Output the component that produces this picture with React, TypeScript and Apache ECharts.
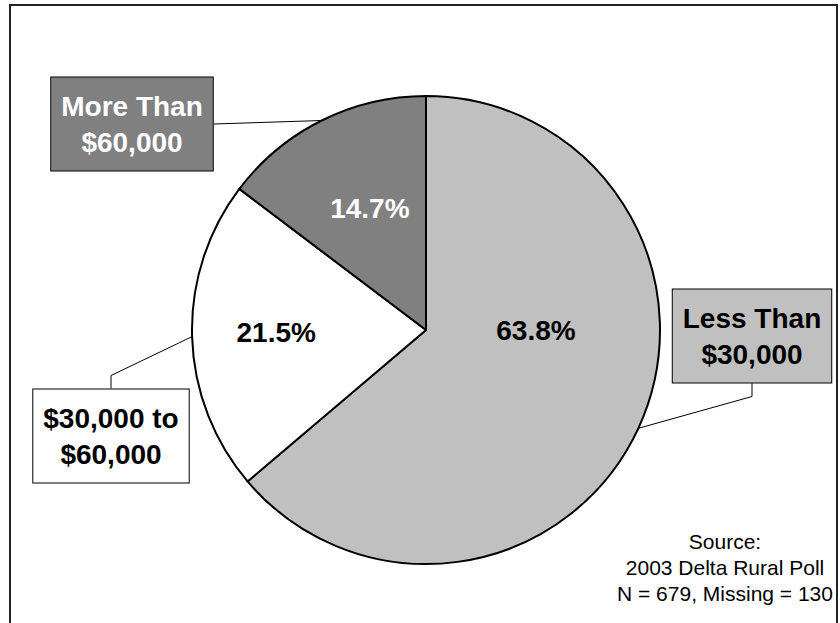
import React, { useEffect, useRef } from "react";
import * as echarts from "echarts";

// ---- data ----
const categories = ["Less Than\n$30,000", "$30,000 to\n$60,000", "More Than\n$60,000"];
const values = [63.8, 21.5, 14.7];
const sliceColors = ["#C0C0C0", "#FFFFFF", "#808080"];
const percentTextColors = ["#000000", "#000000", "#FFFFFF"];
const boxTextColors = ["#000000", "#000000", "#FFFFFF"];
const sourceLines = ["Source:", "2003 Delta Rural Poll", "N = 679, Missing = 130"];

// ---- layout ----
const CX = 426;
const CY = 330;
const R = 234;
// percent label positions relative to pie centre, in units of radius
const pctOffsets: [number, number][] = [
  [0.47, 0.0],
  [-0.64, 0.01],
  [-0.24, -0.52],
];
// category box centres (pixels) and the side the leader line attaches to
const boxCenters: [number, number][] = [
  [752, 336],
  [111, 436],
  [132, 124],
];
const boxAnchors = ["bottom", "top", "right"];
const ELBOW = 13;
const FONT = "'Liberation Sans', Arial, Helvetica, sans-serif";

export default function App() {
  const ref = useRef<HTMLDivElement>(null);
  useEffect(() => {
    if (!ref.current) return;
    const chart = echarts.init(ref.current, null, { renderer: "svg" });
    chart.setOption({
      animation: false,
      backgroundColor: "#FFFFFF",
      graphic: [
        {
          type: "rect",
          shape: { x: 10, y: 5, width: 827, height: 700 },
          style: { fill: "none", stroke: "#222222", lineWidth: 2 },
          silent: true,
          z: 0,
        },
        {
          type: "text",
          x: 725,
          y: 528,
          style: {
            text: sourceLines.join("\n"),
            textAlign: "center",
            textVerticalAlign: "top",
            fill: "#000000",
            fontSize: 21,
            fontFamily: FONT,
            lineHeight: 26,
          },
          silent: true,
        },
      ],
      series: [
        {
          type: "pie",
          center: [CX, CY],
          radius: R,
          startAngle: 90,
          clockwise: true,
          avoidLabelOverlap: false,
          silent: true,
          itemStyle: { borderColor: "#000000", borderWidth: 2 },
          data: values.map((v, i) => ({
            value: v,
            name: categories[i],
            itemStyle: { color: sliceColors[i] },
            label: { color: percentTextColors[i] },
          })),
          label: {
            show: true,
            position: "inside",
            formatter: (p: any) => Number(p.value).toFixed(1) + "%",
            fontSize: 28,
            fontWeight: "bold",
            fontFamily: FONT,
          },
          labelLine: { show: false },
          labelLayout: (params: any) => {
            const o = pctOffsets[params.dataIndex];
            return {
              x: CX + o[0] * R,
              y: CY + o[1] * R,
              align: "center",
              verticalAlign: "middle",
            };
          },
        },
        {
          type: "pie",
          center: [CX, CY],
          radius: R,
          startAngle: 90,
          clockwise: true,
          avoidLabelOverlap: false,
          silent: true,
          z: 3,
          itemStyle: { color: "rgba(0,0,0,0)", borderWidth: 0 },
          data: values.map((v, i) => ({
            value: v,
            name: categories[i],
            label: {
              color: boxTextColors[i],
              backgroundColor: sliceColors[i],
            },
          })),
          label: {
            show: true,
            position: "outside",
            formatter: "{b}",
            fontSize: 28,
            fontWeight: "bold",
            fontFamily: FONT,
            lineHeight: 36,
            align: "center",
            borderColor: "#000000",
            borderWidth: 1,
            padding: [11, 10, 10, 10],
          },
          labelLine: {
            show: true,
            length: 0,
            length2: 0,
            smooth: false,
            lineStyle: { color: "#000000", width: 1 },
          },
          labelLayout: (params: any) => {
            const i = params.dataIndex;
            const c = boxCenters[i];
            const w = params.labelRect.width;
            const h = params.labelRect.height;
            const pts = params.labelLinePoints;
            const start = pts && pts.length ? pts[0] : [CX, CY];
            let end: number[];
            let elbow: number[];
            if (boxAnchors[i] === "bottom") {
              end = [c[0], c[1] + h / 2];
              elbow = [c[0], c[1] + h / 2 + ELBOW];
            } else if (boxAnchors[i] === "top") {
              end = [c[0], c[1] - h / 2];
              elbow = [c[0], c[1] - h / 2 - ELBOW];
            } else {
              end = [c[0] + w / 2, c[1]];
              elbow = [c[0] + w / 2, c[1]];
            }
            return {
              x: c[0],
              y: c[1],
              align: "center",
              verticalAlign: "middle",
              labelLinePoints: [start, elbow, end],
            };
          },
        },
      ],
    });
    return () => chart.dispose();
  }, []);
  return (
    <div
      ref={ref}
      style={{ position: "fixed", left: 0, top: 0, width: 840, height: 623 }}
    />
  );
}
